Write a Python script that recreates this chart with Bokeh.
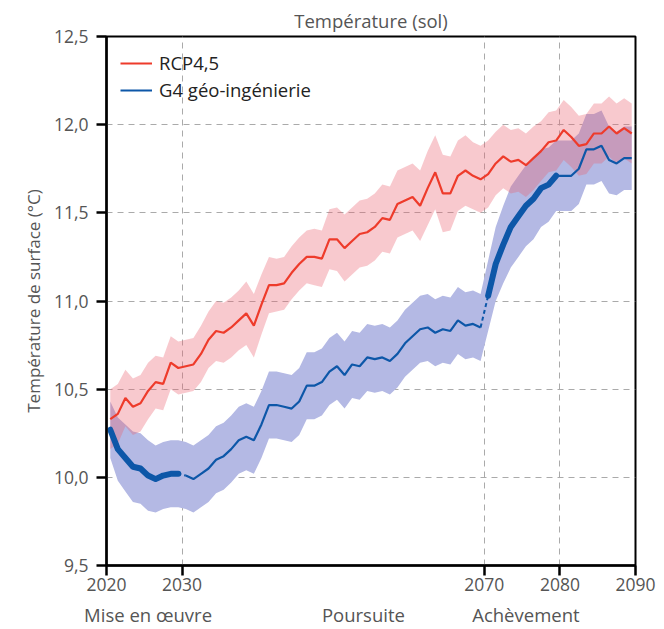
from bokeh.plotting import figure
from bokeh.models import (Range1d, FixedTicker, LinearAxis, Legend, LegendItem)
from bokeh.embed import file_html
from bokeh.resources import INLINE

# ---------------- data ----------------
years = list(range(2020, 2090))

rcp45 = [10.33, 10.36, 10.45, 10.40, 10.42, 10.49, 10.54, 10.53, 10.65, 10.62,
         10.63, 10.64, 10.70, 10.78, 10.83, 10.82, 10.85, 10.89, 10.93, 10.86,
         10.98, 11.09, 11.09, 11.10, 11.16, 11.21, 11.25, 11.25, 11.24, 11.35,
         11.35, 11.30, 11.34, 11.38, 11.39, 11.42, 11.47, 11.46, 11.55, 11.57,
         11.59, 11.54, 11.64, 11.73, 11.61, 11.61, 11.71, 11.74, 11.71, 11.69,
         11.72, 11.78, 11.82, 11.79, 11.80, 11.77, 11.81, 11.85, 11.90, 11.91,
         11.97, 11.93, 11.88, 11.89, 11.95, 11.95, 11.99, 11.95, 11.98, 11.95]

rcp45_spread = [0.17, 0.17, 0.16, 0.16, 0.16, 0.16, 0.15, 0.15, 0.15, 0.15,
                0.15, 0.15, 0.16, 0.16, 0.17, 0.17, 0.17, 0.17, 0.18, 0.18,
                0.17, 0.16, 0.15, 0.15, 0.15, 0.15, 0.15, 0.16, 0.16, 0.17,
                0.18, 0.19, 0.19, 0.19, 0.19, 0.19, 0.19, 0.19, 0.19, 0.19,
                0.19, 0.20, 0.21, 0.21, 0.22, 0.21, 0.20, 0.20, 0.19, 0.19,
                0.19, 0.18, 0.18, 0.18, 0.18, 0.18, 0.18, 0.17, 0.17, 0.17,
                0.17, 0.17, 0.17, 0.17, 0.17, 0.17, 0.17, 0.17, 0.17, 0.17]

g4 = [10.27, 10.16, 10.11, 10.06, 10.05, 10.01, 9.99, 10.01, 10.02, 10.02,
      10.01, 9.99, 10.02, 10.05, 10.10, 10.12, 10.16, 10.21, 10.23, 10.21,
      10.30, 10.41, 10.41, 10.40, 10.39, 10.43, 10.52, 10.52, 10.54, 10.60,
      10.63, 10.58, 10.64, 10.63, 10.68, 10.67, 10.68, 10.66, 10.70, 10.76,
      10.80, 10.84, 10.85, 10.82, 10.84, 10.83, 10.89, 10.86, 10.87, 10.85,
      11.03, 11.21, 11.32, 11.42, 11.48, 11.54, 11.58, 11.64, 11.66, 11.71,
      11.71, 11.71, 11.75, 11.86, 11.86, 11.88, 11.80, 11.78, 11.81, 11.81]

g4_spread = [0.16, 0.18, 0.19, 0.20, 0.20, 0.20, 0.19, 0.19, 0.19, 0.19,
             0.19, 0.19, 0.19, 0.19, 0.19, 0.19, 0.19, 0.19, 0.19, 0.19,
             0.19, 0.19, 0.19, 0.19, 0.19, 0.19, 0.19, 0.19, 0.19, 0.19,
             0.19, 0.19, 0.19, 0.19, 0.19, 0.19, 0.19, 0.19, 0.19, 0.19,
             0.19, 0.19, 0.19, 0.19, 0.19, 0.19, 0.19, 0.19, 0.19, 0.19,
             0.20, 0.21, 0.22, 0.23, 0.23, 0.23, 0.23, 0.22, 0.21, 0.20,
             0.20, 0.20, 0.20, 0.20, 0.20, 0.20, 0.19, 0.18, 0.18, 0.18]

y_ticks = [9.5, 10.0, 10.5, 11.0, 11.5, 12.0, 12.5]
y_tick_labels = ["9,5", "10,0", "10,5", "11,0", "11,5", "12,0", "12,5"]
x_ticks = [2020, 2030, 2070, 2080, 2090]
x_grid = [2030, 2070, 2080]
phases = ["Mise en œuvre", "Poursuite", "Achèvement"]
phase_centers = [2025.5, 2054.0, 2075.5]

# -------------- helpers ---------------
xs = [y + 0.5 for y in years]
r_lo = [v - s for v, s in zip(rcp45, rcp45_spread)]
r_hi = [v + s for v, s in zip(rcp45, rcp45_spread)]
b_lo = [v - s for v, s in zip(g4, g4_spread)]
b_hi = [v + s for v, s in zip(g4, g4_spread)]

FONT = "Open Sans"
GREY = "#555555"
TICK_SIZE = "17.5px"

p = figure(width=664, height=629, output_backend="svg", toolbar_location=None,
           x_range=Range1d(2020, 2090), y_range=Range1d(9.5, 12.5),
           min_border_left=106, min_border_right=29, min_border_top=36,
           min_border_bottom=63, x_axis_location=None)

p.title.text = "Température (sol)"
p.title.align = "center"
p.title.vertical_align = "top"
p.title.text_font = FONT
p.title.text_font_size = "18.5px"
p.title.text_font_style = "normal"
p.title.text_color = GREY
p.title.offset = 0
p.title.standoff = 3

p.outline_line_color = "black"
p.outline_line_width = 2
p.outline_line_alpha = 1.0
p.background_fill_color = "white"
p.border_fill_color = "white"

# bands
p.varea(x=xs, y1=b_lo, y2=b_hi, fill_color="#B4B9E4", fill_alpha=1.0)
p.varea(x=xs, y1=r_lo, y2=r_hi, fill_color="#EB6270", fill_alpha=0.34)

# lines
BLUE = "#0D57A8"
RED = "#EE3B2B"
red_line = p.line(xs, rcp45, line_color=RED, line_width=2.2)

thin1 = p.line(xs[10:50], g4[10:50], line_color=BLUE, line_width=2.2)
p.line(xs[59:], g4[59:], line_color=BLUE, line_width=2.2)
p.line(xs[9:11], g4[9:11], line_color=BLUE, line_width=2, line_dash="3 3")
p.line(xs[49:51], g4[49:51], line_color=BLUE, line_width=2, line_dash="4 3")
p.line(xs[0:10], g4[0:10], line_color=BLUE, line_width=6, line_join="round", line_cap="round")
p.line(xs[50:60], g4[50:60], line_color=BLUE, line_width=6, line_join="round", line_cap="round")

# axes
xaxis = LinearAxis(ticker=FixedTicker(ticks=x_ticks))
xaxis.axis_line_width = 2.5
xaxis.axis_line_color = "black"
xaxis.major_tick_line_width = 2.5
xaxis.major_tick_line_color = "black"
xaxis.major_tick_out = 10
xaxis.major_tick_in = 0
xaxis.minor_tick_line_color = None
xaxis.major_label_text_font = FONT
xaxis.major_label_text_font_size = TICK_SIZE
xaxis.major_label_text_color = GREY
xaxis.major_label_standoff = 2
p.add_layout(xaxis, "below")

phase_axis = LinearAxis(ticker=FixedTicker(ticks=phase_centers),
                        major_label_overrides={c: t for c, t in zip(phase_centers, phases)})
phase_axis.axis_line_color = None
phase_axis.major_tick_line_color = None
phase_axis.minor_tick_line_color = None
phase_axis.major_label_text_font = FONT
phase_axis.major_label_text_font_size = "18.5px"
phase_axis.major_label_text_color = GREY
phase_axis.major_label_standoff = 2
p.add_layout(phase_axis, "below")

yaxis = p.yaxis[0]
yaxis.ticker = FixedTicker(ticks=y_ticks)
yaxis.major_label_overrides = {t: l for t, l in zip(y_ticks, y_tick_labels)}
yaxis.axis_line_width = 2.5
yaxis.axis_line_color = "black"
yaxis.major_tick_line_width = 2.5
yaxis.major_tick_line_color = "black"
yaxis.major_tick_out = 10
yaxis.major_tick_in = 0
yaxis.minor_tick_line_color = None
yaxis.major_label_text_font = FONT
yaxis.major_label_text_font_size = TICK_SIZE
yaxis.major_label_text_color = GREY
yaxis.major_label_standoff = 8
yaxis.axis_label = "Température de surface (°C)"
yaxis.axis_label_text_font = FONT
yaxis.axis_label_text_font_size = "17px"
yaxis.axis_label_text_font_style = "normal"
yaxis.axis_label_text_color = GREY
yaxis.axis_label_standoff = 6

# grid
p.xgrid.ticker = FixedTicker(ticks=x_grid)
p.ygrid.ticker = FixedTicker(ticks=y_ticks[1:-1])
for g in (p.xgrid[0], p.ygrid[0]):
    g.grid_line_color = "#AAAAAA"
    g.grid_line_dash = "6 5"
    g.grid_line_width = 1

# legend
legend = Legend(items=[LegendItem(label="RCP4,5", renderers=[red_line]),
                       LegendItem(label="G4 géo-ingénierie", renderers=[thin1])],
                location="top_left")
legend.border_line_color = None
legend.background_fill_alpha = 0
legend.label_text_font = FONT
legend.label_text_font_size = "18.5px"
legend.label_text_color = "#222222"
legend.glyph_width = 32
legend.glyph_height = 20
legend.label_standoff = 7
legend.spacing = 2
legend.margin = 14
legend.padding = 5
p.add_layout(legend, "center")

open("out.html", "w").write(file_html(p, INLINE))
